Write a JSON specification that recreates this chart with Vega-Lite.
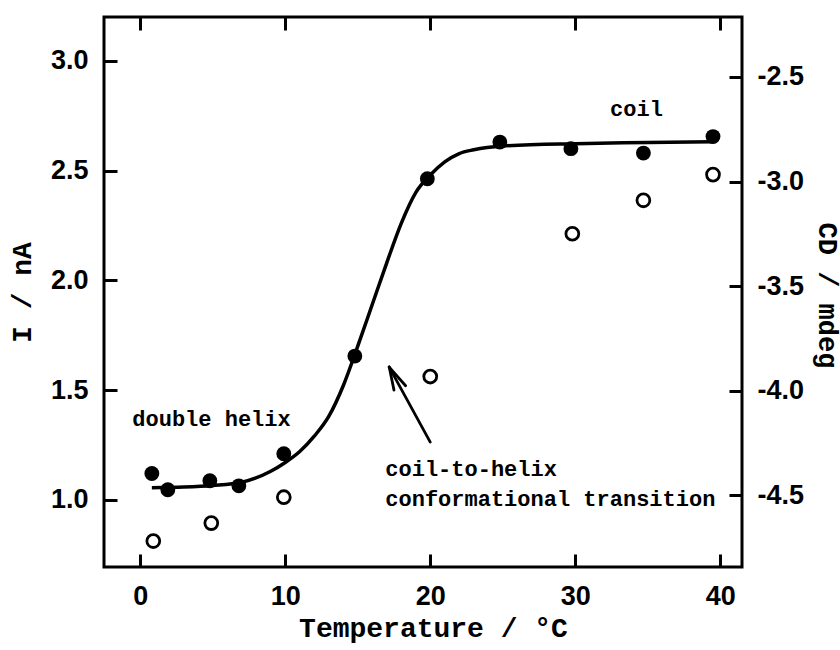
{
  "$schema": "https://vega.github.io/schema/vega-lite/v6.json",
  "width": 638,
  "height": 550,
  "autosize": {"type": "none"},
  "padding": {"left": 104, "top": 17, "right": 98, "bottom": 83},
  "background": "white",
  "config": {
    "view": {"stroke": "black", "strokeWidth": 3},
    "axis": {
      "domain": false,
      "grid": false,
      "labelFont": "Liberation Sans",
      "labelFontSize": 27,
      "labelFontWeight": "bold",
      "labelColor": "black",
      "labelPadding": 16,
      "titleFont": "Liberation Mono",
      "titleFontSize": 28,
      "titleFontWeight": "bold",
      "titleColor": "black"
    }
  },
  "datasets": {
    "curve": [
      {"t": 0.8, "i": 1.055},
      {"t": 3, "i": 1.058},
      {"t": 5, "i": 1.065},
      {"t": 7, "i": 1.08},
      {"t": 9, "i": 1.13},
      {"t": 10, "i": 1.17},
      {"t": 11, "i": 1.22},
      {"t": 12, "i": 1.29},
      {"t": 13, "i": 1.38},
      {"t": 14, "i": 1.52},
      {"t": 15, "i": 1.7},
      {"t": 16, "i": 1.89},
      {"t": 17, "i": 2.08},
      {"t": 18, "i": 2.26},
      {"t": 19, "i": 2.4},
      {"t": 20, "i": 2.48},
      {"t": 21, "i": 2.54},
      {"t": 22, "i": 2.578},
      {"t": 23, "i": 2.595},
      {"t": 25, "i": 2.612},
      {"t": 30, "i": 2.623},
      {"t": 35, "i": 2.628},
      {"t": 39.5, "i": 2.632}
    ],
    "current": [
      {"t": 0.8, "i": 1.12},
      {"t": 1.9, "i": 1.046},
      {"t": 4.8, "i": 1.087},
      {"t": 6.8, "i": 1.064},
      {"t": 9.9, "i": 1.21},
      {"t": 14.8, "i": 1.655},
      {"t": 19.8, "i": 2.463},
      {"t": 24.8, "i": 2.63},
      {"t": 29.7, "i": 2.6},
      {"t": 34.7, "i": 2.58},
      {"t": 39.5, "i": 2.655}
    ],
    "cd": [
      {"t": 0.9, "cd": -4.72},
      {"t": 4.9, "cd": -4.634},
      {"t": 9.9, "cd": -4.51},
      {"t": 20.0, "cd": -3.933},
      {"t": 29.8, "cd": -3.25},
      {"t": 34.7, "cd": -3.09},
      {"t": 39.5, "cd": -2.967}
    ],
    "labels": [
      {"t": -0.55, "i": 1.367, "label": "double helix"},
      {"t": 32.4, "i": 2.783, "label": "coil"},
      {"t": 16.9, "i": 1.139, "label": "coil-to-helix"},
      {"t": 16.9, "i": 1.002, "label": "conformational transition"}
    ],
    "arrow": [
      {"t": 17.17, "i": 1.605, "t2": 20.0, "i2": 1.263},
      {"t": 17.17, "i": 1.605, "t2": 17.5, "i2": 1.5},
      {"t": 17.17, "i": 1.605, "t2": 18.3, "i2": 1.52}
    ]
  },
  "layer": [
    {
      "encoding": {
        "x": {
          "field": "t", "type": "quantitative",
          "scale": {"domain": [-2.5, 41.5], "nice": false, "zero": false},
          "axis": {
            "orient": "bottom", "values": [0, 10, 20, 30, 40], "format": "d",
            "ticks": true, "tickSize": 13, "offset": -13, "tickWidth": 3, "tickColor": "#000000", "tickOpacity": 1,
            "title": "Temperature / °C",
            "titleX": 329, "titleY": 74, "titleBaseline": "middle", "titleAlign": "center"
          }
        },
        "y": {
          "field": "i", "type": "quantitative",
          "scale": {"domain": [0.694, 3.2], "nice": false, "zero": false},
          "axis": {
            "orient": "left", "values": [1.0, 1.5, 2.0, 2.5, 3.0], "format": ".1f",
            "ticks": true, "tickSize": 13, "offset": -13, "tickWidth": 3, "tickColor": "#000000", "tickOpacity": 1,
            "title": "I / nA",
            "titleX": -95, "titleY": 275, "titleAngle": -90, "titleBaseline": "middle", "titleAlign": "center"
          }
        }
      },
      "layer": [
        {
          "data": {"name": "curve"},
          "mark": {"type": "line", "color": "black", "strokeWidth": 3.5, "interpolate": "monotone"}
        },
        {
          "data": {"name": "current"},
          "mark": {"type": "point", "shape": "circle", "filled": true, "color": "black", "opacity": 1, "size": 220}
        },
        {
          "data": {"name": "arrow"},
          "mark": {"type": "rule", "color": "black", "strokeWidth": 2.8, "strokeCap": "round"},
          "encoding": {
            "x2": {"field": "t2"},
            "y2": {"field": "i2"}
          }
        },
        {
          "data": {"name": "labels"},
          "mark": {"type": "text", "font": "Liberation Mono", "fontWeight": "bold", "fontSize": 22, "align": "left", "baseline": "middle", "color": "black"},
          "encoding": {"text": {"field": "label"}}
        }
      ]
    },
    {
      "data": {"name": "cd"},
      "mark": {"type": "point", "shape": "circle", "filled": false, "color": "black", "opacity": 1, "size": 165, "strokeWidth": 2.8},
      "encoding": {
        "x": {
          "field": "t", "type": "quantitative",
          "scale": {"domain": [-2.5, 41.5], "nice": false, "zero": false},
          "axis": {
            "orient": "top", "values": [0, 10, 20, 30, 40], "labels": false, "title": null,
            "ticks": true, "tickSize": 13, "offset": -13, "tickWidth": 3, "tickColor": "#000000", "tickOpacity": 1
          }
        },
        "y": {
          "field": "cd", "type": "quantitative",
          "scale": {"domain": [-4.844, -2.213], "nice": false, "zero": false},
          "axis": {
            "orient": "right", "values": [-4.5, -4.0, -3.5, -3.0, -2.5], "format": ".1f",
            "ticks": true, "tickSize": 13, "offset": -13, "tickWidth": 3, "tickColor": "#000000", "tickOpacity": 1,
            "labelExpr": "replace(datum.label, '−', '-')",
            "labelPadding": 15,
            "title": "CD / mdeg",
            "titleFontSize": 27,
            "titleX": 97, "titleY": 278, "titleAngle": 90, "titleBaseline": "middle", "titleAlign": "center"
          }
        }
      }
    }
  ],
  "resolve": {"scale": {"y": "independent"}, "axis": {"x": "independent", "y": "independent"}}
}
